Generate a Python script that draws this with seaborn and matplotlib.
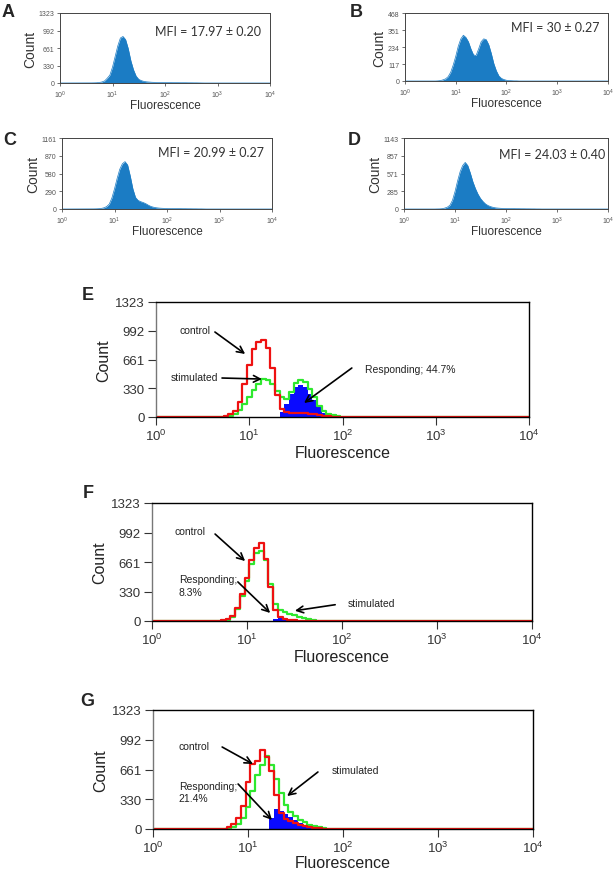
import numpy as np
import seaborn as sns
import matplotlib.pyplot as plt

# log10 fluorescence channel grid (bin centres), shared by every histogram
log_fluor = [0.60, 0.65, 0.70, 0.75, 0.80, 0.85, 0.90, 0.95, 1.00, 1.05,
             1.10, 1.15, 1.20, 1.25, 1.30, 1.35, 1.40, 1.45, 1.50, 1.55,
             1.60, 1.65, 1.70, 1.75, 1.80, 1.85, 1.90, 1.95, 2.00, 2.05,
             2.10, 2.15, 2.20, 2.25, 2.30, 2.35, 2.40, 2.45, 2.50, 2.55,
             2.60, 2.65, 2.70, 2.75, 2.80]

# panels A-D (single histograms)
count_a = [2, 3, 5, 10, 20, 40, 90, 150, 300, 500,
           700, 850, 880, 820, 650, 420, 250, 130, 70, 45,
           30, 22, 18, 14, 12, 10, 9, 8, 8, 7,
           7, 6, 6, 6, 5, 5, 5, 4, 4, 3,
           3, 2, 1, 0, 0]
count_b = [0, 1, 3, 8, 15, 30, 60, 110, 170, 240,
           290, 315, 300, 270, 220, 180, 175, 220, 270, 290,
           285, 250, 190, 120, 70, 35, 18, 10, 5, 3,
           2, 1, 1, 0, 0, 0, 0, 0, 0, 0,
           0, 0, 0, 0, 0]
count_c = [2, 3, 5, 10, 20, 40, 80, 180, 330, 500,
           650, 740, 775, 720, 540, 330, 190, 140, 120, 105,
           85, 60, 40, 28, 20, 15, 12, 10, 9, 8,
           7, 7, 6, 6, 5, 5, 4, 4, 3, 3,
           2, 2, 1, 0, 0]
count_d = [0, 1, 2, 5, 15, 30, 60, 140, 280, 450,
           600, 700, 750, 700, 580, 440, 330, 240, 170, 120,
           80, 55, 38, 26, 18, 14, 11, 9, 8, 7,
           6, 6, 5, 5, 4, 4, 3, 3, 2, 2,
           1, 1, 0, 0, 0]

# panels E-G (control / stimulated / responding)
ctrl_e = [0, 0, 5, 15, 30, 70, 170, 380, 600, 780,
          860, 890, 790, 560, 250, 90, 55, 50, 50, 50,
          45, 40, 35, 25, 15, 8, 4, 3, 3, 4,
          5, 5, 4, 3, 2, 1, 1, 0, 0, 0,
          0, 0, 0, 0, 0]
stim_e = [0, 0, 0, 5, 15, 35, 75, 150, 230, 310,
          380, 435, 420, 380, 300, 230, 210, 290, 390, 420,
          400, 320, 230, 130, 70, 35, 18, 8, 3, 1,
          0, 0, 0, 0, 0, 0, 0, 0, 0, 0,
          0, 0, 0, 0, 0]
resp_e = [0, 0, 0, 0, 0, 0, 0, 0, 0, 0,
          0, 0, 0, 0, 0, 60, 150, 260, 340, 370,
          340, 270, 190, 110, 50, 10, 0, 0, 0, 0,
          0, 0, 0, 0, 0, 0, 0, 0, 0, 0,
          0, 0, 0, 0, 0]

ctrl_f = [0, 0, 2, 8, 20, 60, 150, 300, 480, 680,
          820, 880, 700, 380, 120, 40, 20, 12, 8, 5,
          3, 2, 1, 1, 0, 0, 0, 0, 0, 0,
          0, 0, 0, 0, 0, 0, 0, 0, 0, 0,
          0, 0, 0, 0, 0]
stim_f = [0, 0, 0, 5, 15, 50, 130, 280, 450, 640,
          760, 790, 680, 420, 190, 120, 100, 80, 65, 45,
          30, 20, 10, 5, 2, 0, 0, 0, 0, 0,
          0, 0, 0, 0, 0, 0, 0, 0, 0, 0,
          0, 0, 0, 0, 0]
resp_f = [0, 0, 0, 0, 0, 0, 0, 0, 0, 0,
          0, 0, 0, 0, 20, 30, 15, 5, 0, 0,
          0, 0, 0, 0, 0, 0, 0, 0, 0, 0,
          0, 0, 0, 0, 0, 0, 0, 0, 0, 0,
          0, 0, 0, 0, 0]

ctrl_g = [0, 0, 0, 5, 20, 60, 120, 260, 520, 720,
          760, 880, 800, 650, 380, 180, 110, 85, 70, 50,
          35, 25, 15, 6, 2, 0, 0, 0, 0, 0,
          0, 0, 0, 0, 0, 0, 0, 0, 0, 0,
          0, 0, 0, 0, 0]
stim_g = [0, 0, 0, 0, 5, 20, 60, 120, 250, 420,
          600, 710, 810, 710, 560, 400, 270, 190, 140, 100,
          75, 50, 35, 20, 8, 3, 0, 0, 0, 0,
          0, 0, 0, 0, 0, 0, 0, 0, 0, 0,
          0, 0, 0, 0, 0]
resp_g = [0, 0, 0, 0, 0, 0, 0, 0, 0, 0,
          0, 0, 0, 120, 225, 200, 170, 130, 100, 70,
          40, 15, 0, 0, 0, 0, 0, 0, 0, 0,
          0, 0, 0, 0, 0, 0, 0, 0, 0, 0,
          0, 0, 0, 0, 0]

mfi_labels = ["MFI = 17.97 ± 0.20", "MFI = 30 ± 0.27",
              "MFI = 20.99 ± 0.27", "MFI = 24.03 ± 0.40"]
top_yticks = [[0, 330, 661, 992, 1323], [0, 117, 234, 351, 468],
              [0, 290, 580, 870, 1161], [0, 285, 571, 857, 1143]]
big_yticks = [0, 330, 661, 992, 1323]
decades = [1, 10, 100, 1000, 10000]
decade_labels = ["$10^{0}$", "$10^{1}$", "$10^{2}$", "$10^{3}$", "$10^{4}$"]

sns.set_theme(style="white")
plt.rcParams["font.family"] = ["Liberation Sans", "DejaVu Sans"]
plt.rcParams["mathtext.default"] = "regular"

W, H = 616, 870
fig = plt.figure(figsize=(W / 100, H / 100), dpi=100)


def px_axes(x0, y0, x1, y1):
    return fig.add_axes([x0 / W, 1 - y1 / H, (x1 - x0) / W, (y1 - y0) / H])


def series(counts):
    x = [1.0] + [10 ** v for v in log_fluor] + [10000.0]
    y = [0] + list(counts) + [0]
    return np.array(x), np.array(y)


fill_col = "#1b7cc4"
red, green, blue = "#ee1111", "#2ee82e", "#0a0aff"

# ---- panels A-D
top_boxes = [(60, 14, 270, 84), (405, 14, 608, 82), (62, 139, 272, 210), (404, 139, 608, 210)]
top_counts = [count_a, count_b, count_c, count_d]
mfi_pos = [(0.452, 0.747), (0.52, 0.79), (0.459, 0.80), (0.465, 0.775)]
for box, cnt, yt, mfi, mp in zip(top_boxes, top_counts, top_yticks, mfi_labels, mfi_pos):
    ax = px_axes(*box)
    ax.set_xscale("log")
    x, y = series(cnt)
    sns.lineplot(x=x, y=y, ax=ax, color=fill_col, lw=0.5)
    ax.fill_between(x, y, color=fill_col, lw=0)
    ax.set_xlim(1, 10000)
    ax.set_ylim(0, yt[-1])
    ax.set_xticks(decades)
    ax.set_xticklabels(decade_labels)
    ax.set_yticks(yt)
    ax.minorticks_off()
    ax.tick_params(axis="both", labelsize=5, labelcolor="#555555", length=2.5,
                   width=0.6, color="#555555", pad=1.5, bottom=True, left=True)
    for s in ax.spines.values():
        s.set_color("#444444")
        s.set_linewidth(0.7)
    ax.set_xlabel("Fluorescence", fontsize=8.5, color="#333333", labelpad=-0.5)
    ax.set_ylabel("Count", fontsize=10, color="#333333", labelpad=1)
    ax.text(mp[0], mp[1], mfi, transform=ax.transAxes, fontsize=9,
            family=["Lato", "DejaVu Sans"], color="#333333", va="center")

# ---- panels E-G
big_boxes = [(156, 303, 529, 418), (152, 504, 532, 622), (153, 711, 533, 830)]
big_sets = [(ctrl_e, stim_e, resp_e), (ctrl_f, stim_f, resp_f), (ctrl_g, stim_g, resp_g)]
xlabel_pads = [1, 1, 0]
notes = [
    [("control", (0.064, 0.757), (0.158, 0.739), (0.239, 0.548)),
     ("stimulated", (0.040, 0.348), (0.177, 0.339), (0.284, 0.330)),
     ("Responding; 44.7%", (0.560, 0.417), (0.525, 0.426), (0.397, 0.122))],
    [("control", (0.058, 0.763), (0.166, 0.737), (0.245, 0.508)),
     ("Responding;\n8.3%", (0.071, 0.301), (0.226, 0.331), (0.311, 0.068)),
     ("stimulated", (0.516, 0.153), (0.482, 0.138), (0.376, 0.087))],
    [("control", (0.068, 0.697), (0.182, 0.689), (0.263, 0.546)),
     ("Responding;\n21.4%", (0.068, 0.311), (0.224, 0.378), (0.313, 0.076)),
     ("stimulated", (0.471, 0.496), (0.434, 0.479), (0.353, 0.277))],
]
for box, (ctrl, stim, resp), nt, lp in zip(big_boxes, big_sets, notes, xlabel_pads):
    ax = px_axes(*box)
    ax.set_xscale("log")
    x, yr = series(resp)
    ax.fill_between(x, yr, step="mid", color=blue, lw=0)
    x, yg = series(stim)
    sns.lineplot(x=x, y=yg, ax=ax, color=green, lw=1.6, drawstyle="steps-mid")
    x, yc = series(ctrl)
    sns.lineplot(x=x, y=yc, ax=ax, color=red, lw=1.6, drawstyle="steps-mid")
    ax.set_xlim(1, 10000)
    ax.set_ylim(0, 1323)
    ax.set_xticks(decades)
    ax.set_xticklabels(decade_labels)
    ax.set_yticks(big_yticks)
    ax.minorticks_off()
    ax.tick_params(axis="both", labelsize=9.5, labelcolor="#333333", length=6,
                   width=0.8, color="#333333", pad=2, bottom=True, left=True)
    for s in ax.spines.values():
        s.set_color("black")
        s.set_linewidth(1.0)
    ax.spines["left"].set_color("#777777")
    ax.set_xlabel("Fluorescence", fontsize=11.5, color="#222222", labelpad=lp)
    ax.set_ylabel("Count", fontsize=11.5, color="#222222", labelpad=3)
    for txt, tpos, a0, a1 in nt:
        ax.text(tpos[0], tpos[1], txt, transform=ax.transAxes, fontsize=7.5,
                color="#222222", va="center", linespacing=1.3)
        ax.annotate("", xy=a1, xytext=a0, xycoords="axes fraction",
                    textcoords="axes fraction",
                    arrowprops=dict(arrowstyle="->", color="black", lw=1.2,
                                    mutation_scale=12, shrinkA=0, shrinkB=0))

# panel letters
letters = [("A", 2, 16.7), ("B", 350, 16.7), ("C", 3, 145), ("D", 348, 145),
           ("E", 82, 300), ("F", 83, 498.3), ("G", 80, 706.5)]
for lab, lx, ly in letters:
    fig.text(lx / W, 1 - ly / H, lab, fontsize=13, fontweight="bold",
             va="baseline", ha="left")

fig.savefig("out.png", dpi=100)
